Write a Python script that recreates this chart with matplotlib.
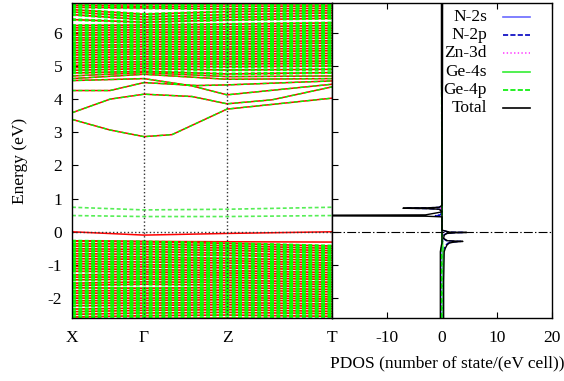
import matplotlib
matplotlib.use("Agg")
import matplotlib.pyplot as plt

plt.rcParams['font.family'] = ['Liberation Serif', 'DejaVu Serif']
plt.rcParams['font.size'] = 12.5
plt.rcParams['lines.scale_dashes'] = False
plt.rcParams['axes.unicode_minus'] = False

# k-path (high symmetry points)
k_labels = ['X', 'Γ', 'Z', 'T']
k_points = [0.0, 0.72, 1.55, 2.60]

# dense valence bands, energies at X, Gamma, Z, T (both spins)
vb_X = [-0.28, -0.36, -0.43, -0.51, -0.58, -0.66, -0.73, -0.81, -0.89, -0.96, -1.04, -1.11, -1.19, -1.30, -1.37, -1.45,
        -1.55, -1.62, -1.69, -1.78, -1.85, -1.93, -2.00, -2.08, -2.15, -2.23, -2.33, -2.41, -2.49, -2.57, -2.65]
vb_G = [-0.30, -0.37, -0.45, -0.53, -0.60, -0.68, -0.76, -0.83, -0.91, -0.99, -1.06, -1.14, -1.21, -1.28, -1.36, -1.43,
        -1.51, -1.58, -1.70, -1.77, -1.85, -1.92, -2.00, -2.07, -2.15, -2.22, -2.30, -2.37, -2.45, -2.53, -2.61]
vb_Z = [-0.35, -0.42, -0.49, -0.56, -0.64, -0.71, -0.80, -0.87, -0.94, -1.02, -1.09, -1.17, -1.24, -1.31, -1.38, -1.46,
        -1.53, -1.61, -1.68, -1.76, -1.83, -1.91, -1.98, -2.05, -2.13, -2.20, -2.28, -2.35, -2.43, -2.51, -2.60]
vb_T = [-0.43, -0.50, -0.57, -0.64, -0.72, -0.79, -0.86, -0.94, -1.01, -1.08, -1.15, -1.23, -1.30, -1.37, -1.44, -1.52,
        -1.59, -1.66, -1.74, -1.81, -1.89, -1.96, -2.03, -2.10, -2.18, -2.25, -2.32, -2.40, -2.47, -2.55, -2.63]

# dense conduction bands
cb_X = [6.22, 6.15, 6.08, 6.00, 5.93, 5.85, 5.78, 5.70, 5.62, 5.55, 5.47, 5.40, 5.33, 5.25, 5.18, 5.10, 5.02, 4.95, 4.87, 4.79]
cb_G = [6.24, 6.17, 6.09, 6.02, 5.95, 5.87, 5.80, 5.73, 5.65, 5.58, 5.50, 5.43, 5.36, 5.28, 5.21, 5.13, 5.06, 4.99, 4.92, 4.84]
cb_Z = [6.26, 6.18, 6.11, 6.03, 5.96, 5.88, 5.81, 5.73, 5.66, 5.58, 5.51, 5.43, 5.36, 5.28, 5.21, 5.13, 5.06, 4.98, 4.88, 4.76]
cb_T = [6.30, 6.22, 6.14, 6.07, 5.99, 5.92, 5.84, 5.76, 5.69, 5.61, 5.53, 5.46, 5.38, 5.31, 5.23, 5.15, 5.08, 5.00, 4.90, 4.80]

top_X = [6.95, 6.89, 6.83, 6.77, 6.70, 6.63, 6.55, 6.40]
top_G = [6.93, 6.87, 6.80, 6.75, 6.56, 6.48, 6.40, 6.32]
top_Z = [6.94, 6.87, 6.80, 6.72, 6.64, 6.55, 6.47, 6.39]
top_T = [6.95, 6.88, 6.81, 6.74, 6.67, 6.60, 6.52, 6.44]

# lower conduction bands, with extra k points
c1_k = [0.0, 0.38, 0.72, 1.0, 1.55, 2.6]
c1_E = [3.39, 3.07, 2.87, 2.93, 3.70, 4.03]
c2_k = [0.0, 0.38, 0.72, 1.2, 1.55, 2.0, 2.6]
c2_E = [3.59, 4.00, 4.15, 4.08, 3.86, 3.98, 4.37]
c3_k = [0.0, 0.38, 0.72, 1.25, 1.55, 2.6]
c3_E = [4.26, 4.26, 4.50, 4.41, 4.43, 4.55]
c4_k = [0.0, 0.72, 1.2, 1.55, 2.6]
c4_E = [4.56, 4.62, 4.40, 4.13, 4.45]
c5_E = [4.62, 4.75, 4.60, 4.62]
c6_E = [4.70, 4.80, 4.68, 4.70]

# gap states (spin down only) and spin-up only bands
gap1_E = [0.74, 0.66, 0.68, 0.74]
gap2_E = [0.49, 0.46, 0.46, 0.49]
up1_E = [0.00, -0.10, -0.05, 0.00]
up2_E = [-0.27, -0.29, -0.30, -0.31]

# PDOS (spin up positive, spin down negative)
pdos_E = [-2.6, -1.5, -0.6, -0.50, -0.40, -0.34, -0.31, -0.29, -0.27, -0.20, -0.10, -0.05, -0.03, -0.02, -0.01,
          0.05, 0.3, 0.45, 0.47, 0.48, 0.49, 0.50, 0.51, 0.6, 0.68, 0.70, 0.71, 0.72, 0.74, 0.8, 1.5, 4.0, 4.5, 4.6, 6.9]
tot_up = [0.3, 0.3, 0.4, 0.6, 0.9, 1.3, 2.2, 3.8, 1.0, 0.3, 0.4, 0.9, 2.4, 4.5, 1.4,
          0.0, 0.0, 0.0, 0.0, 0.0, 0.0, 0.0, 0.0, 0.0, 0.0, 0.0, 0.0, 0.0, 0.0, 0.0, 0.0, 0.05, 0.1, 0.1, 0.1]
tot_dn = [-0.3, -0.3, -0.3, -0.2, -0.1, 0.0, 0.0, 0.0, 0.0, 0.0, 0.0, 0.0, 0.0, 0.0, 0.0,
          0.0, 0.0, 0.0, -3.0, -22.0, -25.0, -22.0, -3.0, 0.0, -0.5, -3.0, -7.1, -3.0, -0.5, 0.0, 0.0, -0.05, -0.1, -0.1, -0.1]
n2p_up = [0.1, 0.1, 0.2, 0.4, 0.7, 1.1, 2.0, 3.4, 0.8, 0.2, 0.3, 0.8, 2.1, 4.0, 1.2,
          0.0, 0.0, 0.0, 0.0, 0.0, 0.0, 0.0, 0.0, 0.0, 0.0, 0.0, 0.0, 0.0, 0.0, 0.0, 0.0, 0.0, 0.0, 0.0, 0.0]
n2p_dn = [-0.1, -0.1, -0.1, -0.1, 0.0, 0.0, 0.0, 0.0, 0.0, 0.0, 0.0, 0.0, 0.0, 0.0, 0.0,
          0.0, 0.0, 0.0, -0.3, -1.0, -1.2, -1.0, -0.3, 0.0, -0.4, -2.7, -6.6, -2.7, -0.4, 0.0, 0.0, 0.0, 0.0, 0.0, 0.0]
n2s_up = [0.0, 0.0, 0.0, 0.0, 0.0, 0.0, 0.1, 0.2, 0.1, 0.0, 0.0, 0.0, 0.1, 0.2, 0.1,
          0.0, 0.0, 0.0, 0.0, 0.0, 0.0, 0.0, 0.0, 0.0, 0.0, 0.0, 0.0, 0.0, 0.0, 0.0, 0.0, 0.0, 0.0, 0.0, 0.0]
zn3d_up = [0.1, 0.1, 0.1, 0.1, 0.1, 0.1, 0.2, 0.3, 0.1, 0.1, 0.1, 0.1, 0.2, 0.3, 0.1,
           0.0, 0.0, 0.0, 0.0, 0.0, 0.0, 0.0, 0.0, 0.0, 0.0, 0.0, 0.0, 0.0, 0.0, 0.0, 0.0, 0.0, 0.0, 0.0, 0.0]
zn3d_dn = [-0.1, -0.1, -0.1, -0.1, 0.0, 0.0, 0.0, 0.0, 0.0, 0.0, 0.0, 0.0, 0.0, 0.0, 0.0,
           0.0, 0.0, 0.0, 0.0, -0.1, -0.1, -0.1, 0.0, 0.0, 0.0, -0.2, -0.3, -0.2, 0.0, 0.0, 0.0, 0.0, 0.0, 0.0, 0.0]
ge4s_up = [0.2, 0.2, 0.2, 0.2, 0.1, 0.1, 0.1, 0.1, 0.1, 0.0, 0.0, 0.0, 0.0, 0.0, 0.0,
           0.0, 0.0, 0.0, 0.0, 0.0, 0.0, 0.0, 0.0, 0.0, 0.0, 0.0, 0.0, 0.0, 0.0, 0.0, 0.0, 0.0, 0.0, 0.0, 0.0]
ge4p_dn = [-0.1, -0.1, -0.1, -0.1, 0.0, 0.0, 0.0, 0.0, 0.0, 0.0, 0.0, 0.0, 0.0, 0.0, 0.0,
           0.0, 0.0, 0.0, 0.0, 0.0, 0.0, 0.0, 0.0, 0.0, 0.0, 0.0, 0.0, 0.0, 0.0, 0.0, 0.0, -0.05, -0.05, 0.0, 0.0]

legend_labels = ['N-2s', 'N-2p', 'Zn-3d', 'Ge-4s', 'Ge-4p', 'Total']
legend_colors = ['#6a6aff', '#0000c0', '#ff44ff', '#33ee33', '#00ee00', 'black']
legend_styles = ['-', '--', ':', '-', '--', '-']

W, H = 564, 381
fig = plt.figure(figsize=(W / 100, H / 100), dpi=100)
ax1 = fig.add_axes([72 / W, 63 / H, 260 / W, 315 / H])
ax2 = fig.add_axes([332 / W, 63 / H, 220 / W, 315 / H])

red = '#ff0000'
green = '#00ff00'
dash = (2.8, 1.8)

# band structure: red = spin up, green dashed = spin down
dense_sets = [(vb_X, vb_G, vb_Z, vb_T), (cb_X, cb_G, cb_Z, cb_T), (top_X, top_G, top_Z, top_T)]
for sX, sG, sZ, sT in dense_sets:
    for e in zip(sX, sG, sZ, sT):
        ax1.plot(k_points, e, color=red, lw=1.2)
for kk, ee in [(c1_k, c1_E), (c2_k, c2_E), (c3_k, c3_E), (c4_k, c4_E), (k_points, c5_E), (k_points, c6_E),
               (k_points, up1_E), (k_points, up2_E)]:
    ax1.plot(kk, ee, color=red, lw=1.1)

for sX, sG, sZ, sT in dense_sets:
    for e in zip(sX, sG, sZ, sT):
        ax1.plot(k_points, e, color=green, lw=2.0, dashes=dash)
for kk, ee in [(c1_k, c1_E), (c2_k, c2_E), (c3_k, c3_E), (c4_k, c4_E), (k_points, c5_E), (k_points, c6_E)]:
    ax1.plot(kk, ee, color=green, lw=1.0, dashes=dash)
for ee in [gap1_E, gap2_E]:
    ax1.plot(k_points, ee, color='#55ee55', lw=1.2, dashes=dash)

for kv in k_points[1:3]:
    ax1.axvline(kv, color='#333333', lw=1.0, ls=':')
ax1.axhline(0, color='#333333', lw=1.0, ls=':')

ax1.set_xlim(k_points[0], k_points[-1])
ax1.set_ylim(-2.6, 6.9)
ax1.set_xticks(k_points)
ax1.set_xticklabels(k_labels)
ax1.set_yticks(range(-2, 7))
ax1.tick_params(axis='both', direction='in', length=4, pad=7)
ax1.tick_params(axis='x', length=0, pad=9)
ax1.set_ylabel('Energy (eV)', labelpad=14)

# PDOS
ax2.plot(n2s_up, pdos_E, color=legend_colors[0], lw=1.0)
ax2.plot(n2p_up, pdos_E, color=legend_colors[1], lw=1.0, ls='--')
ax2.plot(n2p_dn, pdos_E, color=legend_colors[1], lw=1.0, ls='--')
ax2.plot(zn3d_up, pdos_E, color=legend_colors[2], lw=1.0, ls=':')
ax2.plot(zn3d_dn, pdos_E, color=legend_colors[2], lw=1.0, ls=':')
ax2.plot(ge4s_up, pdos_E, color=legend_colors[3], lw=1.2)
ax2.plot(ge4p_dn, pdos_E, color=legend_colors[4], lw=1.2, ls='--')
ax2.plot(tot_up, pdos_E, color='black', lw=1.0)
ax2.plot(tot_dn, pdos_E, color='black', lw=1.0)
ax2.axhline(0, color='black', lw=0.8, ls='-.')

ax2.set_xlim(-20, 20)
ax2.set_ylim(-2.6, 6.9)
ax2.set_xticks([-20, -10, 0, 10, 20])
ax2.set_xticklabels(['', '-10', '0', '10', '20'])
ax2.set_yticks(range(-2, 7))
ax2.set_yticklabels([])
ax2.tick_params(axis='both', direction='in', length=4, pad=9, top=True)

# legend, gnuplot style (text right aligned, sample to the right)
for i, lab in enumerate(legend_labels):
    ya = (318 - (17 + 18.2 * i)) / 315
    ax2.text((487 - 332) / 220, ya, lab, transform=ax2.transAxes, ha='right', va='center')
    ax2.plot([(503 - 332) / 220, (530 - 332) / 220], [ya, ya], transform=ax2.transAxes,
             color=legend_colors[i], ls=legend_styles[i], lw=1.2)

for ax in (ax1, ax2):
    for sp in ax.spines.values():
        sp.set_linewidth(1.0)

fig.text(447 / W, 1 - 363 / H, 'PDOS (number of state/(eV cell))', ha='center', va='center')

fig.savefig('out.png', dpi=100)
